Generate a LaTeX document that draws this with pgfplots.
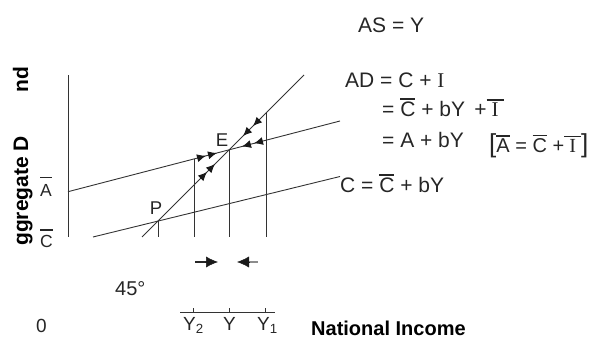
\documentclass[border=0pt]{standalone}
\usepackage{pgfplots}
\pgfplotsset{compat=1.18}
\usetikzlibrary{arrows.meta}
\usepackage{fontspec}
\setmainfont{Liberation Sans}
\newfontfamily\serifI{Liberation Serif}

% bar over a symbol: #1 gap between bar and letter
\newcommand\ovl[2][2.6pt]{\leavevmode\vbox{\hrule height 1.3pt\kern#1\hbox{#2}}}
\newcommand\Ibar{\ovl{\hbox to 17pt{\hss\serifI I\hss}}}

\pgfplotsset{
  ln/.style={black!80, line width=0.9pt},
  arr/.style={black!90, line width=0.9pt, -{Latex[length=9pt,width=8pt]}},
}
\tikzset{txt/.style={anchor=base west, inner sep=0pt, text=black!85}}

\begin{document}
\begin{tikzpicture}
\begin{axis}[width=606pt, height=338pt, scale only axis,
  xmin=0, xmax=606, ymin=0, ymax=338, hide axis, clip=false]
\coordinate (sw) at (axis cs:0,0);
\coordinate (ne) at (axis cs:606,338);

% vertical axis
\addplot[ln] coordinates {(68,101) (68,263)};
% 45 degree line AS = Y
\addplot[ln] coordinates {(142,101) (304,263)};
% aggregate demand AD = A + bY
\addplot[ln] coordinates {(68,146.3) (340,217)};
% consumption C = C + bY
\addplot[ln] coordinates {(93,101) (340,161.5)};
% dropped verticals at P, Y2, Y, Y1
\addplot[ln] coordinates {(158,101) (158,117)};
\addplot[ln] coordinates {(194,101) (194,179.1)};
\addplot[ln] coordinates {(229.5,101) (229.5,188.4)};
\addplot[ln] coordinates {(266,101) (266,225)};

% adjustment arrows below equilibrium
\addplot[arr] coordinates {(199,180.3) (206,182.2)};
\addplot[arr] coordinates {(210,183.2) (217,185.0)};
\addplot[arr] coordinates {(201,160) (207,166)};
\addplot[arr] coordinates {(209,168) (215,174)};
% adjustment arrows above equilibrium
\addplot[arr] coordinates {(249,193.4) (242,191.5)};
\addplot[arr] coordinates {(261,196.5) (254,194.7)};
\addplot[arr] coordinates {(249,208) (243,202)};
\addplot[arr] coordinates {(259,218) (253,212)};

% direction markers
\addplot[black!85, line width=1.8pt] coordinates {(195,76) (207,76)};
\addplot[black!90, line width=0.5pt, -{Latex[length=12pt,width=11pt]}] coordinates {(205,76) (218,76)};
\addplot[black!45, line width=1.8pt] coordinates {(246,76) (258,76)};
\addplot[black!90, line width=0.5pt, -{Latex[length=12pt,width=11pt]}] coordinates {(249,76) (237,76)};

% income axis segment with ticks
\addplot[ln] coordinates {(180,26) (275,26)};
\addplot[ln] coordinates {(193,26) (193,30)};
\addplot[ln] coordinates {(229,26) (229,30)};
\addplot[ln] coordinates {(265,26) (265,30)};

% point labels
\node[anchor=center, inner sep=0pt, text=black!85, font=\fontsize{18.5}{20}\selectfont] at (axis cs:222,198) {E};
\node[anchor=center, inner sep=0pt, text=black!85, font=\fontsize{18.5}{20}\selectfont] at (axis cs:156,130) {P};

% vertical intercepts
\node[txt, font=\fontsize{17.5}{20}\selectfont] at (axis cs:40,141) {\ovl[7pt]{A}};
\node[txt, font=\fontsize{17.5}{20}\selectfont] at (axis cs:40,91) {\ovl[4pt]{C}};

% vertical axis title
\node[rotate=90, anchor=base west, inner sep=0pt, font=\bfseries\fontsize{21}{25}\selectfont] at (axis cs:28,92) {ggregate D};
\node[rotate=90, anchor=base west, inner sep=0pt, font=\bfseries\fontsize{21}{25}\selectfont] at (axis cs:28,245) {nd};

% equations
\node[txt, font=\fontsize{21}{25}\selectfont] at (axis cs:358,305) {AS = Y};
\node[txt, font=\fontsize{21}{25}\selectfont] at (axis cs:345,250) {AD = C + {\serifI I}};
\node[txt, font=\fontsize{21}{25}\selectfont] at (axis cs:382,221) {= \ovl{C} + bY \,+\Ibar};
\node[txt, font=\fontsize{21}{25}\selectfont] at (axis cs:382,190) {= A + bY};
\node[txt, font=\fontsize{20}{24}\selectfont] at (axis cs:489,185) {{\fontsize{26}{26}\selectfont[}\ovl{A} = \ovl{C} +\Ibar{\fontsize{26}{26}\selectfont]}};
\node[txt, font=\fontsize{21}{25}\selectfont] at (axis cs:340,145) {C = \ovl{C} + bY};

% other labels
\node[txt, font=\fontsize{20}{24}\selectfont] at (axis cs:115,43) {45°};
\node[txt, font=\fontsize{19}{23}\selectfont] at (axis cs:36,6) {0};
\node[txt, font=\fontsize{19}{22}\selectfont] at (axis cs:183,8) {Y\textsubscript{2}};
\node[txt, font=\fontsize{19}{22}\selectfont] at (axis cs:223,8) {Y};
\node[txt, font=\fontsize{19}{22}\selectfont] at (axis cs:257,8) {Y\textsubscript{1}};
\node[anchor=base west, inner sep=0pt, font=\bfseries\fontsize{20}{24}\selectfont] at (axis cs:311,3) {National Income};
\end{axis}
\pgfresetboundingbox
\path[use as bounding box] (sw) rectangle (ne);
\end{tikzpicture}
\end{document}
